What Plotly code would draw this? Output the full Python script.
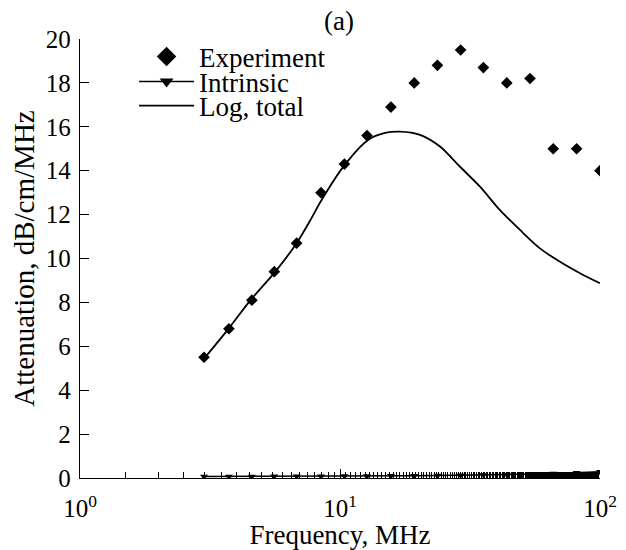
import plotly.graph_objects as go

# Frequencies (MHz) of the measured / intrinsic points
freq = [3.0, 3.74, 4.58, 5.59, 6.81, 8.45, 10.4, 12.7, 15.7, 19.3,
        23.7, 29.1, 35.6, 43.8, 53.8, 66.1, 81.3, 100.0]
experiment = [5.5, 6.8, 8.1, 9.4, 10.7, 13.0, 14.3, 15.6, 16.9, 18.0,
              18.8, 19.5, 18.7, 18.0, 18.2, 15.0, 15.0, 14.0]
intrinsic = [0.07, 0.07, 0.07, 0.08, 0.08, 0.08, 0.09, 0.09, 0.10, 0.10,
             0.11, 0.12, 0.14, 0.16, 0.18, 0.21, 0.24, 0.29]

# Log, total curve
curve_freq = [3.03, 3.71, 4.51, 5.62, 6.83, 7.67, 8.45, 10.36, 12.82, 14.90,
              17.02, 20.31, 24.25, 28.94, 34.55, 41.25, 49.24, 58.78, 70.17,
              83.77, 100.0]
curve_val = [5.5, 6.77, 8.08, 9.38, 10.72, 11.72, 12.62, 14.22, 15.4, 15.72,
             15.78, 15.63, 15.1, 14.18, 13.27, 12.2, 11.3, 10.46, 9.85,
             9.33, 8.87]

x_tickvals = [1, 10, 100]
x_ticktext = ["10<sup>0</sup>", "10<sup>1</sup>", "10<sup>2</sup>"]
y_tickvals = [0, 2, 4, 6, 8, 10, 12, 14, 16, 18, 20]

FONT = "Liberation Serif"
TICK_SIZE = 25
TEXT_SIZE = 27

fig = go.Figure()
# data traces (legend drawn by separate legend-only traces below)
fig.add_trace(go.Scatter(
    x=freq, y=experiment, mode="markers", name="Experiment", showlegend=False,
    marker=dict(symbol="diamond", size=9, color="black"),
))
fig.add_trace(go.Scatter(
    x=freq, y=intrinsic, mode="lines+markers", name="Intrinsic", showlegend=False,
    line=dict(color="black", width=1.5),
    marker=dict(symbol="triangle-down", size=7, color="black"),
))
fig.add_trace(go.Scatter(
    x=curve_freq, y=curve_val, mode="lines", name="Log, total", showlegend=False,
    line=dict(color="black", width=1.8, shape="spline", smoothing=0.8),
))

# legend entries
fig.add_trace(go.Scatter(
    x=[None], y=[None], mode="markers", name="Experiment", legend="legend",
    marker=dict(symbol="diamond", size=15, color="black"),
))
fig.add_trace(go.Scatter(
    x=[None], y=[None], mode="lines+markers", name="Intrinsic", legend="legend2",
    line=dict(color="black", width=1.5),
    marker=dict(symbol="triangle-down", size=12, color="black"),
))
fig.add_trace(go.Scatter(
    x=[None], y=[None], mode="lines", name="Log, total", legend="legend3",
    line=dict(color="black", width=1.8),
))

leg_common = dict(xanchor="left", yanchor="middle", bgcolor="rgba(0,0,0,0)",
                  font=dict(family=FONT, size=TEXT_SIZE, color="black"),
                  itemwidth=55, borderwidth=0)
LEG_X = 0.104

fig.update_layout(
    width=626, height=550,
    margin=dict(l=80, r=26, t=39, b=72),
    paper_bgcolor="white", plot_bgcolor="white",
    font=dict(family=FONT, size=TICK_SIZE, color="black"),
    title=dict(text="(a)", x=0.5415, xanchor="center", y=0.962, yanchor="middle",
               font=dict(family=FONT, size=TEXT_SIZE, color="black")),
    showlegend=True,
    legend=dict(x=LEG_X, y=0.959, **leg_common),
    legend2=dict(x=LEG_X, y=0.902, **leg_common),
    legend3=dict(x=LEG_X, y=0.847, **leg_common),
    xaxis=dict(
        type="log", range=[0, 2], automargin=False,
        tickvals=x_tickvals, ticktext=x_ticktext,
        ticks="inside", ticklen=9, tickcolor="black", tickwidth=1,
        ticklabelstandoff=8,
        showline=True, linecolor="black", linewidth=1.3,
        showgrid=False, zeroline=False, mirror=False,
        minor=dict(ticks="inside", ticklen=6, tickcolor="black", showgrid=False),
        title=dict(text="Frequency, MHz", font=dict(family=FONT, size=TEXT_SIZE), standoff=0),
        tickfont=dict(family=FONT, size=TICK_SIZE),
    ),
    yaxis=dict(
        range=[0, 20], tickvals=y_tickvals, automargin=False,
        ticks="inside", ticklen=9, tickcolor="black", tickwidth=1,
        ticklabelstandoff=3,
        showline=True, linecolor="black", linewidth=1.3,
        showgrid=False, zeroline=False, mirror=False,
        title=dict(text="Attenuation, dB/cm/MHz", font=dict(family=FONT, size=29), standoff=2),
        tickfont=dict(family=FONT, size=TICK_SIZE),
    ),
)

fig.write_html("out.html")
